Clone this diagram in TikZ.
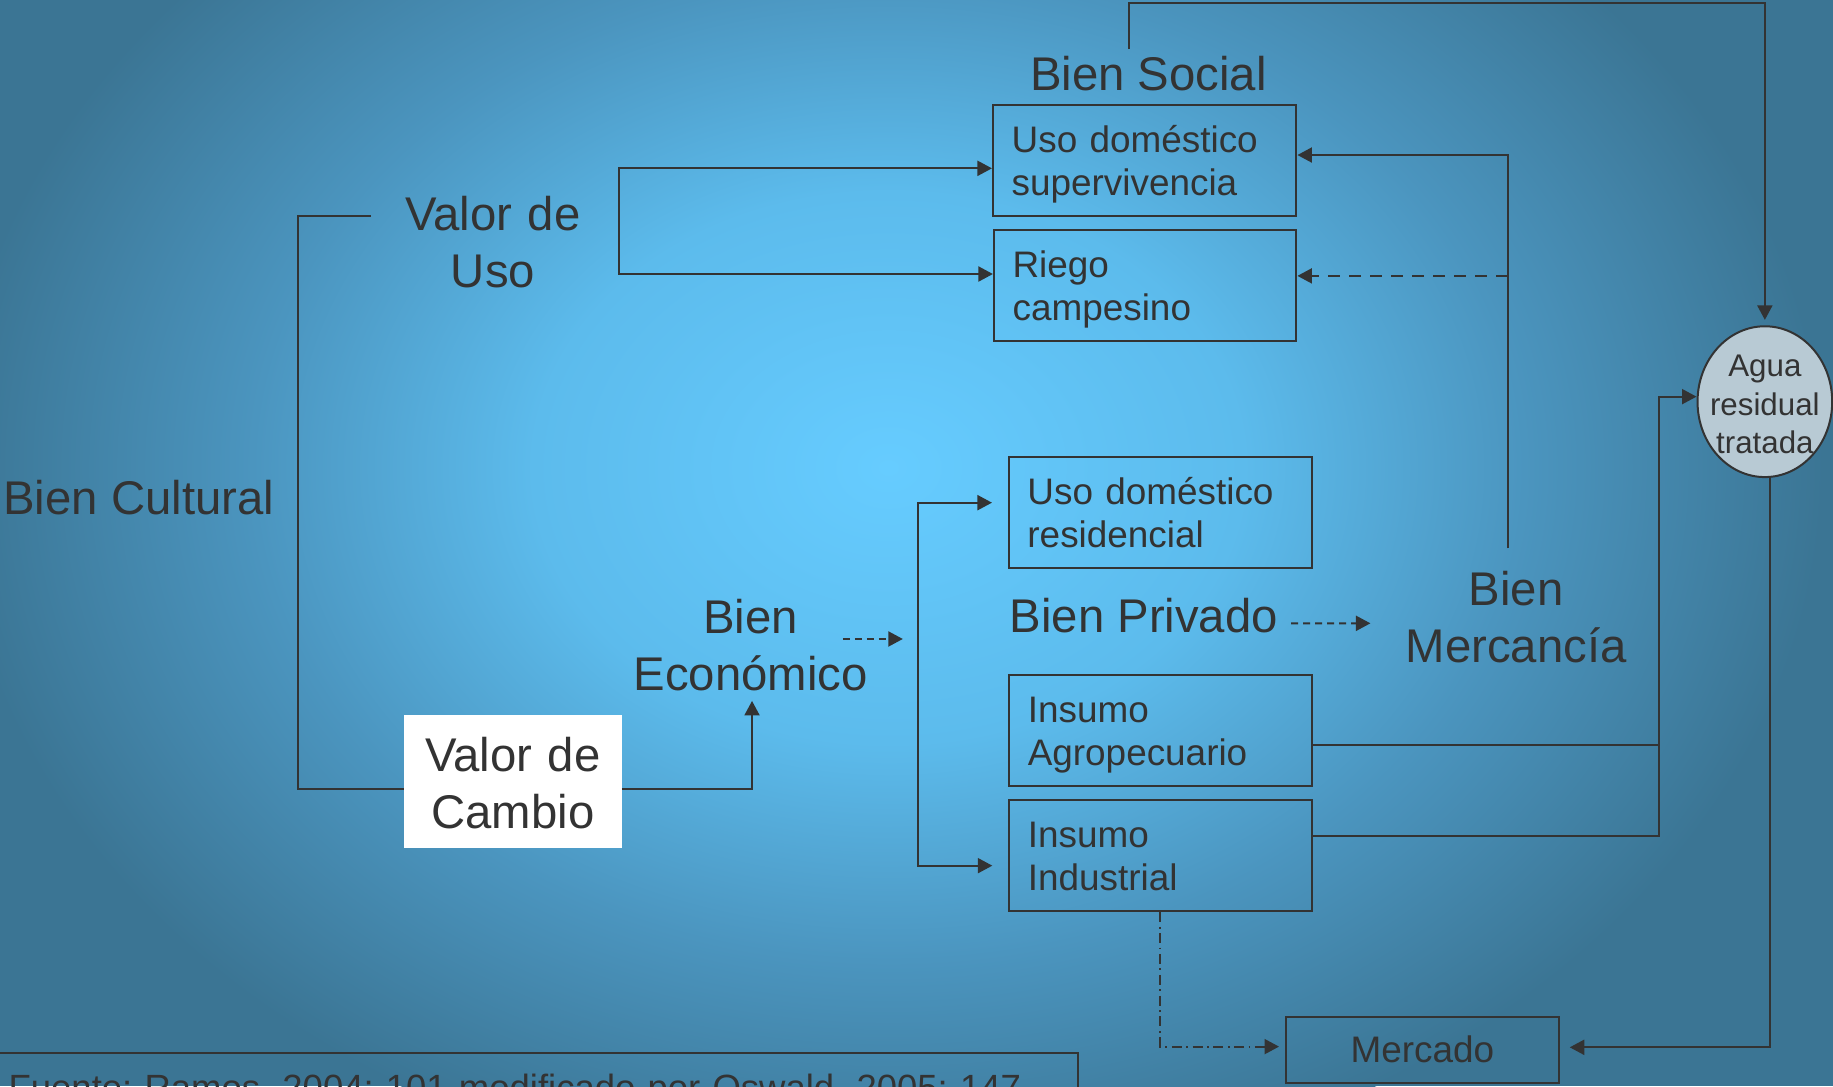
\documentclass[tikz,border=0pt]{standalone}
\usepackage{fontspec}
\setmainfont{Liberation Sans}
\usetikzlibrary{arrows.meta,calc,shapes.geometric}
\frenchspacing

\definecolor{ink}{HTML}{333333}
\definecolor{bgA}{HTML}{66CCFF}
\definecolor{bgB}{HTML}{5CBBEC}
\definecolor{bgC}{HTML}{4B95BF}
\definecolor{bgD}{HTML}{3B7594}
\definecolor{aguafill}{HTML}{B8CAD4}

\pgfdeclareradialshading{bgshade}{\pgfpointorigin}{color(0bp)=(bgA); color(9.5bp)=(bgB); color(17bp)=(bgC); color(25bp)=(bgD); color(50bp)=(bgD)}

\def\kk{1.169}
\newcommand\fBig{\fontsize{47.3}{57.3}\selectfont}
\newcommand\fBox{\fontsize{36.9}{43.3}\selectfont}
\newcommand\fAgua{\fontsize{31.3}{38.6}\selectfont}
\newcommand\fFoot{\fontsize{36.5}{44}\selectfont}

\tikzset{
  every node/.style={text=ink},
  box/.style 2 args={draw=ink, line width=2pt, rectangle, font=\fBox, align=left,
    inner ysep=0pt, inner xsep={16*\kk pt}, text width={(#1-32)*\kk pt},
    minimum height={#2*\kk pt}, text height={25*\kk pt}, text depth={39*\kk pt}},
  tipA/.tip={Triangle[length=14.5pt,width=15pt]},
  conn/.style={draw=ink, line width=2pt, -tipA},
  biconn/.style={draw=ink, line width=2pt, tipA-tipA},
  plainline/.style={draw=ink, line width=2pt},
  dconn/.style={conn, dash pattern=on 12pt off 9pt},
  sdconn/.style={conn, dash pattern=on 7pt off 5pt},
  ddconn/.style={conn, dash pattern=on 10pt off 4.5pt on 1.8pt off 4.5pt},
  biglbl/.style={font=\fBig, align=center, text width={230*\kk pt}, inner sep=0pt, anchor=base},
  onelbl/.style={font=\fBig, inner sep=0pt},
}

\begin{document}
\begin{tikzpicture}[x=1.169pt,y=-1.169pt]
\useasboundingbox (0,0) rectangle (1568,929);
\begin{scope}
\clip (0,0) rectangle (1568,929);
\fill[bgD] (0,0) rectangle (1568,929);
\shade[shading=bgshade] (760,400) ellipse [x radius=800, y radius=620];

% boxes
\node[box={259.6}{94.7}] (sup) at (979.2,137.2) {Uso doméstico\\supervivencia};
\node[box={258.8}{95}] (riego) at (979.6,244.2) {Riego\\campesino};
\node[box={259.2}{95}] (res) at (992.5,438.4) {Uso doméstico\\residencial};
\node[box={258.9}{94.7}] (agro) at (992.65,624.75) {Insumo\\Agropecuario};
\node[box={258.9}{95}] (ind) at (992.65,732.1) {Insumo\\Industrial};
\node[draw=ink, line width=2pt, minimum width={233.9*\kk pt}, minimum height={56.5*\kk pt}, inner sep=0pt, font=\fBox] (merc) at (1216.7,898) {Mercado};

\node[fill=white, inner sep=0pt, text width={186*\kk pt}, align=center, minimum height={114.5*\kk pt}, font=\fBig, text height={30*\kk pt}, text depth={47*\kk pt}] (cambio) at (438.8,668.5) {Valor de\\Cambio};

\node[ellipse, draw=ink, line width=2pt, fill=aguafill, minimum width={115.2*\kk pt}, minimum height={129*\kk pt}, inner sep=0pt] (agua) at (1509.7,343.6) {};
\node[font=\fAgua, align=center, text width={110*\kk pt}, inner sep=0pt, anchor=base] (aguatxt) at ($(agua.center)+(0,-21.6)$) {Agua\\residual\\tratada};

% labels
\node[onelbl, anchor=base] (social) at (982.4,77) {Bien Social};
\node[onelbl, anchor=base west] (cult) at (2.7,440) {Bien Cultural};
\node[onelbl, anchor=base west] (priv) at (863.6,541) {Bien Privado};
\node[biglbl] (uso) at (421.7,197) {Valor de\\Uso};
\node[biglbl] (econ) at (642,542) {Bien\\Económico};
\node[biglbl] (merca) at (1297,518) {Bien\\Mercancía};

% footnote
\node[draw=ink, line width=2pt, anchor=north west, inner xsep={11.5*\kk pt}, inner ysep=0pt, text width={903*\kk pt}, align=left, text height={40.3*\kk pt}, text depth={30*\kk pt}, font=\fFoot] (fuente) at (-5,900.2) {Fuente: Ramos, 2004: 101 modificado por Oswald, 2005: 147};

% coordinates
\coordinate (topStart) at (966,42);
\coordinate (topCorner) at (1509.7,2.9);
\coordinate (aguaTop) at ($(agua.north)+(0,-4.6)$);
\coordinate (vu) at (529.9,144);
\coordinate (supIn) at ($(sup.west)+(0,6.8)$);
\coordinate (riegoIn) at ($(riego.west)+(0,-9.8)$);
\coordinate (bcTop) at (317,184.4);
\coordinate (bcBot) at (255,675.3);
\coordinate (econTip) at ($(econ.south)+(1.3,8)$);
\coordinate (e1) at (721,546.6);
\coordinate (e2) at (772.3,546.6);
\coordinate (resIn) at ($(res.west)+(-13.5,-8.4)$);
\coordinate (indIn) at ($(ind.west)+(-13.5,8.4)$);
\coordinate (vb) at (785.2,0);
\coordinate (pv1) at ($(priv.base east)+(11,-7.8)$);
\coordinate (pv2) at (1172.3,533.2);
\coordinate (bmTop) at (1289.8,469);
\coordinate (supOut) at ($(sup.east)+(0,-4.6)$);
\coordinate (rE) at ($(riego.east)+(0,-8.2)$);
\coordinate (aE) at ($(agro.east)+(0,12.3)$);
\coordinate (iE) at ($(ind.east)+(0,-17.2)$);
\coordinate (vx) at (1419.4,0);
\coordinate (aW) at ($(agua.west)+(0,-4.3)$);
\coordinate (aS) at ($(agua.south)+(4.2,0)$);
\coordinate (mE) at ($(merc.east)+(8.3,-2.1)$);
\coordinate (mW) at ($(merc.west)+(-4.8,-2.7)$);

% connectors
\draw[conn] (topStart) |- (topCorner) -- (aguaTop);
\draw[biconn] (supIn) -- (supIn -| vu) |- (riegoIn);
\draw[plainline] (bcTop) -| (bcBot) -- (cambio.west |- bcBot);
\draw[conn] (cambio.east |- bcBot) -| (econTip);
\draw[sdconn] (e1) -- (e2);
\draw[biconn] (resIn) -- (resIn -| vb) |- (indIn);
\draw[sdconn] (pv1) -- (pv2);
\draw[conn] (bmTop) |- (supOut);
\draw[dconn] (bmTop |- rE) -- (rE);
\draw[plainline] (aE) -- (aE -| vx);
\draw[conn] (iE) -- (iE -| vx) |- (aW);
\draw[conn] (aS) |- (mE);
\draw[ddconn] (ind.south) |- (mW);
\end{scope}
\end{tikzpicture}
\end{document}
